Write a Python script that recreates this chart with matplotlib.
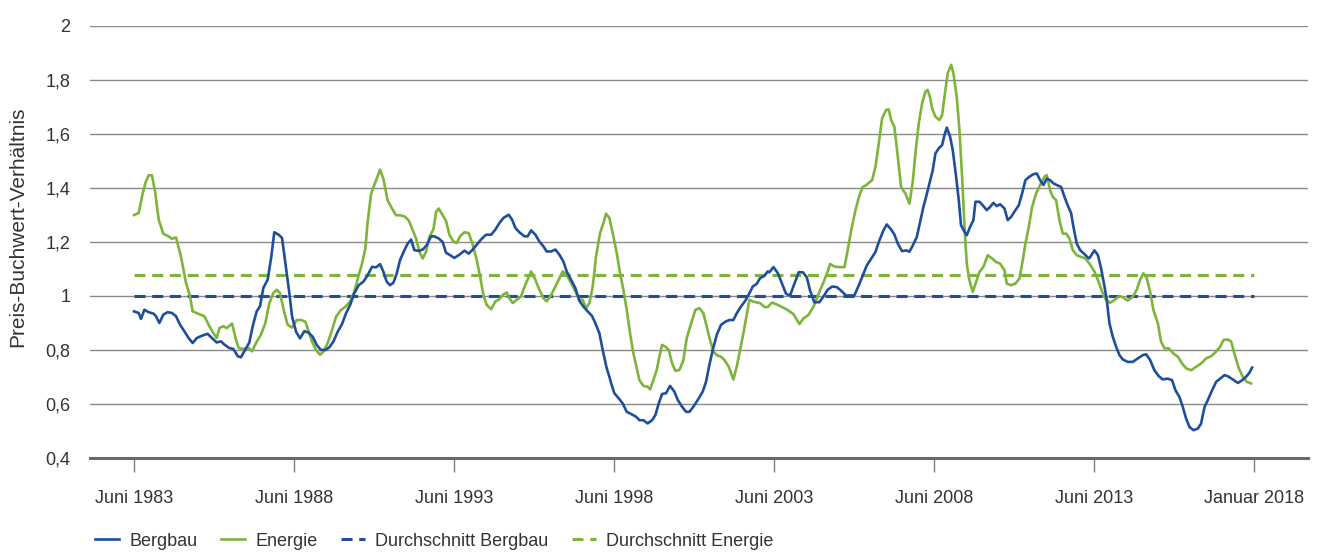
import matplotlib
matplotlib.use("Agg")
import matplotlib.pyplot as plt

plt.rcParams['font.family'] = ['Liberation Sans', 'DejaVu Sans']

# months since June 1983
berg_m = [0, 1.75, 2.6, 3.9, 5.5, 7.25, 8.25, 9.5, 11, 12.6, 14.25, 15.75, 17.25, 18.9, 20.5, 22, 23.5, 25.5,
          27.6, 29.25, 31, 32.6, 33.9, 35.75, 37.25, 38.9, 40.1, 41.75, 43.25, 44.5, 46, 47.25, 48.5, 50.1,
          51.4, 52.6, 54.25, 55.5, 56.75, 58.25, 59.25, 60.75, 62.25, 63.9, 65.5, 67, 68.5, 70.1, 71.75,
          73.25, 74.75, 76.4, 78, 79.5, 81, 82.6, 84.25, 86, 87.6, 89.25, 90.75, 92.25, 93.5, 94.75, 96,
          97.25, 98.5, 99.75, 101.4, 102.6, 103.9, 105.1, 106.75, 108.25, 109.75, 111.4, 112.6, 114.25,
          115.75, 117, 118.25, 120.1, 122, 123.9, 125.5, 127, 128.5, 130.1, 132, 133.9, 135.5, 137, 138.5,
          140.5, 141.75, 143, 144.5, 146.4, 147.6, 148.9, 150.5, 152, 153.5, 154.75, 156.4, 158, 159.5,
          161, 162.25, 163.9, 165.5, 167, 168.5, 170.1, 171.75, 173, 174.5, 175.75, 177.25, 178.25, 178.9,
          180.1, 181.75, 183.25, 184.75, 186.4, 188.25, 189.5, 191, 192.6, 194.25, 195.5, 196.75, 198,
          199.5, 201, 202.6, 203.9, 205.5, 207, 208.25, 209.75, 211.4, 213.25, 214.5, 215.75, 217, 218.5,
          220.1, 221.75, 223.25, 224.75, 226, 227.6, 229.25, 230.75, 232, 233.5, 234.75, 236.4, 237.6,
          238.25, 239.75, 241.4, 243, 244.5, 246, 247.6, 249.25, 250.75, 252.25, 253.5, 255.1, 257, 258.5,
          260.1, 261.75, 263.5, 265.1, 267, 268.9, 270.1, 271.75, 273.25, 274.75, 276.4, 278, 279.5, 281,
          282.25, 283.9, 285.1, 286.4, 288, 289.5, 290.75, 292, 293.5, 294.75, 296, 297, 298.25, 299.5,
          300.5, 301.75, 303, 303.9, 304.75, 306, 307, 308.25, 309.25, 310.1, 311.4, 312.25, 313.5, 314.75,
          315.5, 317, 318.25, 319.75, 321, 322.25, 323.5, 324.75, 326.4, 327.6, 328.9, 330.1, 331.75, 333,
          334.25, 335.75, 337.25, 338.5, 339.75, 341, 342.25, 343.5, 344.75, 346, 347.6, 348.9, 350.1,
          351.4, 352.25, 353.5, 354.75, 356.4, 358, 358.5, 360.1, 361.4, 362.6, 363.9, 364.75, 365.75, 367,
          368.25, 369.5, 370.75, 372.6, 374.5, 376.4, 378.25, 379.5, 381, 382.6, 384.25, 385.75, 387.6,
          389.25, 390.5, 392, 393.25, 394.5, 395.75, 397.25, 398.9, 400.1, 401.4, 402.6, 404.25, 405.75,
          407.25, 408.9, 410.1, 412, 413.9, 415.5, 417, 418.25, 419.25]
berg_v = [0.943, 0.937, 0.915, 0.949, 0.94, 0.935, 0.925, 0.9, 0.931, 0.94, 0.937, 0.925, 0.894, 0.869, 0.844,
          0.826, 0.844, 0.853, 0.86, 0.844, 0.828, 0.832, 0.82, 0.807, 0.804, 0.777, 0.773, 0.802, 0.828,
          0.888, 0.943, 0.962, 1.03, 1.06, 1.14, 1.236, 1.227, 1.215, 1.122, 1.011, 0.925, 0.868, 0.843,
          0.87, 0.864, 0.849, 0.819, 0.8, 0.8, 0.81, 0.831, 0.868, 0.896, 0.936, 0.966, 1.01, 1.04, 1.053,
          1.077, 1.108, 1.106, 1.118, 1.09, 1.053, 1.04, 1.049, 1.083, 1.133, 1.17, 1.194, 1.209, 1.17,
          1.167, 1.172, 1.188, 1.221, 1.221, 1.213, 1.2, 1.16, 1.153, 1.141, 1.153, 1.168, 1.157, 1.172,
          1.19, 1.209, 1.227, 1.227, 1.246, 1.27, 1.289, 1.301, 1.283, 1.252, 1.236, 1.221, 1.221, 1.243,
          1.227, 1.202, 1.184, 1.165, 1.165, 1.172, 1.153, 1.128, 1.091, 1.06, 1.029, 0.982, 0.961, 0.943,
          0.926, 0.899, 0.862, 0.8, 0.732, 0.701, 0.677, 0.64, 0.621, 0.602, 0.571, 0.563, 0.553, 0.54,
          0.54, 0.528, 0.54, 0.559, 0.602, 0.637, 0.64, 0.667, 0.646, 0.615, 0.59, 0.571, 0.571, 0.59,
          0.615, 0.646, 0.683, 0.745, 0.8, 0.856, 0.893, 0.905, 0.911, 0.911, 0.936, 0.961, 0.983, 1.01,
          1.035, 1.045, 1.066, 1.075, 1.091, 1.088, 1.107, 1.085, 1.045, 1.008, 1.002, 1.045, 1.088, 1.088,
          1.07, 1.02, 0.977, 0.977, 0.998, 1.023, 1.035, 1.033, 1.02, 1.002, 1.002, 1.002, 1.039, 1.076,
          1.113, 1.138, 1.163, 1.206, 1.243, 1.265, 1.246, 1.228, 1.194, 1.166, 1.169, 1.164, 1.187, 1.218,
          1.274, 1.33, 1.367, 1.417, 1.466, 1.528, 1.547, 1.559, 1.596, 1.624, 1.59, 1.54, 1.442, 1.355,
          1.262, 1.238, 1.225, 1.256, 1.281, 1.349, 1.349, 1.336, 1.318, 1.33, 1.345, 1.333, 1.34, 1.324,
          1.281, 1.293, 1.312, 1.336, 1.38, 1.429, 1.442, 1.451, 1.454, 1.429, 1.411, 1.435, 1.429, 1.417,
          1.411, 1.404, 1.367, 1.336, 1.306, 1.256, 1.194, 1.17, 1.155, 1.139, 1.144, 1.169, 1.152, 1.103,
          1.035, 0.985, 0.899, 0.849, 0.812, 0.781, 0.765, 0.756, 0.756, 0.769, 0.781, 0.784, 0.763, 0.725,
          0.703, 0.691, 0.694, 0.688, 0.651, 0.626, 0.589, 0.546, 0.515, 0.503, 0.509, 0.527, 0.589, 0.614,
          0.651, 0.682, 0.694, 0.707, 0.703, 0.691, 0.678, 0.688, 0.701, 0.716, 0.735]

energie_m = [0, 1.75, 3.25, 4.5, 5.5, 6.75, 8, 9.25, 11, 12.6, 14.25, 15.75, 17.6, 19.5, 21, 22, 23.5, 26.4,
             28.25, 29.75, 31, 32, 33.5, 34.75, 36.75, 38.25, 39.25, 41, 43, 44.25, 45.75, 47.6, 49.25,
             50.75, 52.25, 53.5, 54.75, 56.4, 57.6, 59.25, 61, 62.6, 64.25, 65.5, 66.75, 68.25, 69.75, 71,
             72.6, 74.25, 75.75, 77.6, 79.25, 81, 82.6, 84.25, 85.5, 86.75, 87.6, 88.9, 90.5, 92.25, 93.5,
             95.1, 96.75, 98.25, 99.75, 101.4, 103, 104.5, 105.75, 107, 108.25, 109.5, 110.75, 112.25,
             113.25, 114.25, 115.5, 117, 118.25, 119.75, 121, 122.25, 123.9, 125.5, 127, 128.5, 129.75, 131,
             132.25, 133.9, 135.5, 137, 138.25, 139.75, 140.75, 142, 143.5, 145.1, 146.75, 148.9, 150.5, 152,
             153.5, 154.75, 156.4, 158, 159.5, 160.75, 162.25, 163.9, 165.5, 167, 168.25, 169.5, 170.75, 172,
             173.25, 174.75, 176, 177, 178.25, 179.75, 181, 182.25, 183.5, 184.75, 186, 187.25, 188.5,
             189.5, 191, 192.6, 193.5, 194.75, 196, 197, 198, 199.25, 200.5, 201.75, 203, 204.5, 206, 207.25,
             208.9, 210.5, 212, 213.5, 214.75, 216, 217.25, 218.5, 220.1, 221.4, 223, 224.75, 226, 227.25,
             228.5, 229.75, 230.75, 232, 233.5, 234.75, 236.4, 237.6, 239.25, 241.6, 244.75, 247.25, 249.5,
             251, 252.9, 254.75, 256, 257.25, 258.5, 260, 261, 262.6, 264.5, 266.4, 267.6, 268.9, 270.5, 272,
             273.25, 274.5, 275.5, 276.75, 278, 279.25, 280.5, 282, 283, 283.9, 285.1, 286.4, 287.6, 289.25,
             290.75, 292, 293, 294.25, 295.5, 296.75, 297.6, 298.5, 299.25, 300.5, 302, 303, 303.9, 305.1,
             306.4, 307.25, 308.5, 309.5, 310.5, 311.4, 312.25, 313.25, 314.5, 315.75, 317, 318.5, 320.1,
             321.75, 323.25, 324.75, 326.4, 327.25, 328.9, 330.5, 332, 333.25, 334.25, 335.5, 336.75, 338.25,
             339.75, 341.4, 342.25, 343.5, 344.5, 345.75, 347, 348.25, 349.5, 350.75, 352, 353.5, 355.1,
             356.75, 358.25, 360.1, 361.4, 363, 364.5, 366, 367.6, 369.5, 371, 372.6, 374.5, 376, 377.25,
             378.5, 379.75, 381, 382.25, 383.9, 385.1, 386.4, 388, 389.75, 391.4, 393, 394.5, 396.4, 398.25,
             400.1, 402, 403.9, 405.75, 407.25, 408.5, 410.1, 411.4, 412.6, 414.25, 415.75, 417.25, 418.9]
energie_v = [1.30, 1.307, 1.38, 1.425, 1.447, 1.447, 1.38, 1.283, 1.23, 1.223, 1.212, 1.217, 1.147, 1.048,
             0.999, 0.943, 0.937, 0.925, 0.888, 0.863, 0.844, 0.881, 0.888, 0.881, 0.898, 0.838, 0.807,
             0.804, 0.807, 0.795, 0.826, 0.857, 0.9, 0.974, 1.011, 1.023, 1.011, 0.937, 0.894, 0.883, 0.911,
             0.911, 0.905, 0.868, 0.831, 0.8, 0.782, 0.794, 0.825, 0.874, 0.923, 0.948, 0.96, 0.979, 1.016,
             1.077, 1.12, 1.176, 1.274, 1.379, 1.422, 1.468, 1.434, 1.354, 1.324, 1.299, 1.299, 1.295, 1.28,
             1.244, 1.213, 1.164, 1.139, 1.164, 1.219, 1.246, 1.311, 1.324, 1.303, 1.278, 1.227, 1.202,
             1.196, 1.221, 1.236, 1.233, 1.19, 1.134, 1.073, 1.004, 0.967, 0.951, 0.98, 0.988, 1.004, 1.013,
             0.992, 0.974, 0.986, 0.998, 1.042, 1.091, 1.06, 1.023, 0.992, 0.98, 1.004, 1.035, 1.066, 1.091,
             1.079, 1.048, 1.017, 0.986, 0.986, 0.955, 0.974, 1.035, 1.147, 1.233, 1.27, 1.305, 1.289, 1.221,
             1.159, 1.085, 1.023, 0.949, 0.862, 0.788, 0.732, 0.689, 0.667, 0.664, 0.654, 0.689, 0.726,
             0.775, 0.819, 0.812, 0.8, 0.751, 0.723, 0.726, 0.763, 0.844, 0.899, 0.949, 0.955, 0.936, 0.887,
             0.837, 0.794, 0.781, 0.775, 0.763, 0.738, 0.691, 0.738, 0.8, 0.862, 0.93, 0.986, 0.98, 0.976,
             0.974, 0.959, 0.959, 0.976, 0.966, 0.95, 0.933, 0.896, 0.917, 0.93, 0.96, 0.991, 1.022, 1.05,
             1.088, 1.119, 1.109, 1.107, 1.107, 1.169, 1.243, 1.317, 1.373, 1.404, 1.41, 1.419, 1.429, 1.478,
             1.565, 1.658, 1.689, 1.691, 1.651, 1.627, 1.515, 1.404, 1.379, 1.342, 1.423, 1.528, 1.639,
             1.713, 1.757, 1.763, 1.735, 1.695, 1.664, 1.652, 1.67, 1.738, 1.825, 1.856, 1.825, 1.738, 1.615,
             1.442, 1.257, 1.12, 1.058, 1.015, 1.052, 1.089, 1.108, 1.151, 1.139, 1.126, 1.12, 1.095, 1.046,
             1.04, 1.046, 1.065, 1.132, 1.194, 1.256, 1.33, 1.38, 1.411, 1.442, 1.448, 1.392, 1.367, 1.355,
             1.281, 1.231, 1.231, 1.213, 1.17, 1.151, 1.145, 1.139, 1.12, 1.091, 1.06, 1.016, 0.985, 0.975,
             0.985, 1.0, 0.994, 0.983, 0.998, 1.023, 1.06, 1.084, 1.066, 1.016, 0.948, 0.899, 0.831, 0.806,
             0.806, 0.787, 0.775, 0.75, 0.732, 0.725, 0.738, 0.75, 0.769, 0.777, 0.794, 0.812, 0.837, 0.839,
             0.831, 0.787, 0.732, 0.701, 0.682, 0.676]

avg_bergbau = 1.0
avg_energie = 1.078
avg_span = [0, 420]

tick_pos = [0, 60, 120, 180, 240, 300, 360, 420]
tick_labels = ["Juni 1983", "Juni 1988", "Juni 1993", "Juni 1998", "Juni 2003",
               "Juni 2008", "Juni 2013", "Januar 2018"]
y_ticks = [0.4, 0.6, 0.8, 1.0, 1.2, 1.4, 1.6, 1.8, 2.0]
y_labels = ["0,4", "0,6", "0,8", "1", "1,2", "1,4", "1,6", "1,8", "2"]

BLUE = "#1f4f9b"
GREEN = "#7db43a"
TXT = "#333333"

W, H = 1317, 552
fig = plt.figure(figsize=(W / 100, H / 100), dpi=100)
ax = fig.add_axes([90 / W, 1 - 458 / H, (1308 - 90) / W, (458 - 26) / H])

for yv in y_ticks[1:]:
    ax.axhline(yv, color="#8a8a8a", lw=1.0, zorder=1)

ax.plot(berg_m, berg_v, color=BLUE, lw=1.9, zorder=4, label="Bergbau", solid_joinstyle="round")
ax.plot(energie_m, energie_v, color=GREEN, lw=1.9, zorder=3, label="Energie", solid_joinstyle="round")
ax.plot(avg_span, [avg_bergbau] * 2, color=BLUE, lw=2.2, dashes=(3.6, 2.2), zorder=2,
        label="Durchschnitt Bergbau")
ax.plot(avg_span, [avg_energie] * 2, color=GREEN, lw=2.2, dashes=(3.6, 2.2), zorder=2,
        label="Durchschnitt Energie")

ax.set_xlim(-16.5, 440.2)
ax.set_ylim(0.4, 2.0)
for s in ["top", "right", "left"]:
    ax.spines[s].set_visible(False)
ax.spines["bottom"].set_color("#6a6a6a")
ax.spines["bottom"].set_linewidth(2.2)

ax.set_xticks(tick_pos)
ax.set_xticklabels(tick_labels, fontsize=13, color=TXT)
ax.tick_params(axis="x", direction="out", length=10, width=1, color="#808080", pad=13)
ax.set_yticks(y_ticks)
ax.set_yticklabels(y_labels, fontsize=13, color=TXT)
ax.tick_params(axis="y", length=0, pad=14)

fig.text(18 / W, 1 - 227 / H, "Preis-Buchwert-Verhältnis", rotation=90, ha="center", va="center",
         fontsize=15, color=TXT)

leg = fig.legend(loc="center left", bbox_to_anchor=(88 / W, 1 - 541 / H), ncol=4, frameon=False,
                 fontsize=13, handlelength=1.3, handletextpad=0.6, columnspacing=1.3,
                 borderaxespad=0, labelcolor=TXT)

fig.savefig("out.png", dpi=100)
